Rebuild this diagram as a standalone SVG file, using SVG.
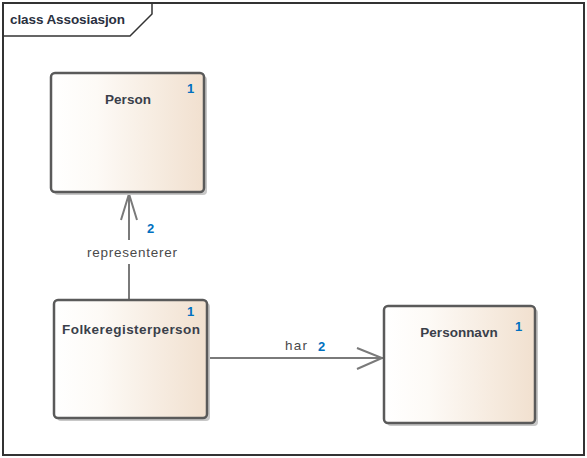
<svg xmlns="http://www.w3.org/2000/svg" width="587" height="458" viewBox="0 0 587 458">
<style>
.node{stroke:#5a5a5a;stroke-width:2.5;fill:url(#g)}
.shadow{fill:#c8c8c8}
.name{font-family:"Liberation Sans",Arial,sans-serif;font-weight:bold;font-size:13.5px;fill:#3a3f4a;text-anchor:middle}
.mult{font-family:"Liberation Sans",Arial,sans-serif;font-weight:bold;font-size:13px;fill:#0070c0}
.lbl{font-family:"Liberation Sans",Arial,sans-serif;font-size:13.5px;fill:#4a4a4a}
.conn{stroke:#7a7a7a;stroke-width:2;fill:none}
</style>
<defs>
<linearGradient id="g" x1="0" y1="0" x2="1" y2="0">
<stop offset="0" stop-color="#ffffff"/>
<stop offset="0.3" stop-color="#fdfaf6"/>
<stop offset="1" stop-color="#f1e0cf"/>
</linearGradient>
</defs>
<rect x="0" y="0" width="587" height="458" fill="#ffffff"/>
<g id="frame">
<rect x="3" y="3" width="581" height="452" fill="none" stroke="#333" stroke-width="2"/>
<path d="M3,36 H130 L152,14 V3" fill="none" stroke="#333" stroke-width="1.5"/>
<text x="10" y="24" font-family="'Liberation Sans',Arial,sans-serif" font-weight="bold" font-size="13.5" fill="#2a3040" textLength="115">class Assosiasjon</text>
</g>
<g id="connectors">
<path class="conn" d="M129,299 V264 M129,240 V193"/>
<path class="conn" d="M121,220 L129,194 L137,220"/>
<text class="lbl" x="132" y="257" text-anchor="middle" textLength="90">representerer</text>
<text class="mult" x="147" y="233">2</text>
<path class="conn" d="M207,358 H383"/>
<path class="conn" d="M357,348 L382,358 L357,369"/>
<text class="lbl" x="285" y="350" textLength="22">har</text>
<text class="mult" x="318" y="351">2</text>
</g>
<g id="Person">
<rect class="shadow" x="54" y="76" width="153" height="119" rx="4"/>
<rect class="node" x="51" y="73" width="153" height="119" rx="4"/>
<text class="name" x="128" y="104">Person</text>
<text class="mult" x="187" y="93">1</text>
</g>
<g id="Folkeregisterperson">
<rect class="shadow" x="57" y="303" width="153" height="118" rx="4"/>
<rect class="node" x="54" y="300" width="153" height="118" rx="4"/>
<text class="name" x="131" y="334" textLength="138">Folkeregisterperson</text>
<text class="mult" x="187" y="316">1</text>
</g>
<g id="Personnavn">
<rect class="shadow" x="387" y="309" width="151" height="117" rx="4"/>
<rect class="node" x="384" y="306" width="151" height="117" rx="4"/>
<text class="name" x="459" y="337">Personnavn</text>
<text class="mult" x="515" y="331">1</text>
</g>
</svg>
